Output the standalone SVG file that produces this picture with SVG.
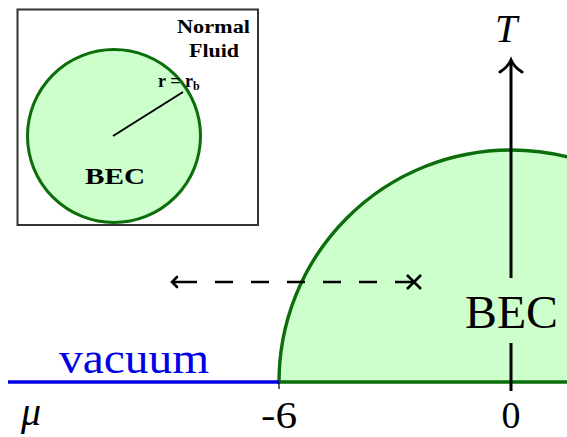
<svg xmlns="http://www.w3.org/2000/svg" width="567" height="437" viewBox="0 0 567 437">
<style>
.serif{font-family:"Liberation Serif","DejaVu Serif",serif;fill:#000}
.region{fill:#ccffcc;stroke:#0b6e0b;stroke-width:3.4}
.axis{stroke:#000;stroke-width:3;fill:none}
.dash{stroke:#000;stroke-width:2.6;fill:none}
</style>
<rect width="567" height="437" fill="#fff"/>
<g id="bec-region">
  <path class="region" d="M279 382 A232 232 0 0 1 743 382 Z"/>
  <text class="serif" x="511.5" y="328" font-size="46" text-anchor="middle" textLength="93" lengthAdjust="spacingAndGlyphs">BEC</text>
</g>
<g id="vacuum">
  <line x1="8" y1="382" x2="279" y2="382" stroke="#0000e6" stroke-width="3.5"/>
  <text x="134" y="373" font-family="Liberation Serif, serif" font-size="44" fill="#0000e6" text-anchor="middle" textLength="150" lengthAdjust="spacingAndGlyphs">vacuum</text>
</g>
<g id="axes">
  <path class="axis" d="M511 391 V343 M511 278 V61"/>
  <path class="axis" stroke-width="2.6" stroke-linecap="round" d="M500 72 Q508 67 511 60 Q514 67 522 72"/>
  <line x1="279" y1="382" x2="279" y2="389" stroke="#000" stroke-width="1.2"/>
  <text class="serif" x="506" y="42" font-size="40" font-style="italic" text-anchor="middle">T</text>
  <text class="serif" x="31" y="425" font-size="40" font-style="italic" text-anchor="middle">μ</text>
  <text class="serif" x="279" y="428" font-size="38" text-anchor="middle" textLength="36" lengthAdjust="spacingAndGlyphs">-6</text>
  <text class="serif" x="511" y="428" font-size="38" text-anchor="middle">0</text>
</g>
<g id="connectors">
  <path class="dash" d="M174 282 H197 M215 282 H233 M251 282 H269 M287 282 H305 M323 282 H341 M359 282 H377 M395 282 H414"/>
  <path class="dash" stroke-linecap="round" d="M177 277 Q173 281 172 282 Q173 283 177 287"/>
  <path class="dash" d="M407 275 L421 289 M421 275 L407 289"/>
</g>
<g id="inset">
  <rect x="17.5" y="9.5" width="240.5" height="215.5" fill="#fff" stroke="#333" stroke-width="2"/>
  <circle cx="114" cy="136" r="86.5" fill="#ccffcc" stroke="#0b6e0b" stroke-width="3"/>
  <line x1="113" y1="136" x2="183" y2="92" stroke="#000" stroke-width="2"/>
  <text class="serif" x="213.5" y="33" font-size="19" font-weight="bold" text-anchor="middle" textLength="73" lengthAdjust="spacingAndGlyphs">Normal</text>
  <text class="serif" x="214" y="57" font-size="19" font-weight="bold" text-anchor="middle" textLength="50" lengthAdjust="spacingAndGlyphs">Fluid</text>
  <text class="serif" x="158" y="87" font-size="18" font-weight="bold">r = r<tspan font-size="12" dy="3">b</tspan></text>
  <text class="serif" x="115" y="184" font-size="24" font-weight="bold" text-anchor="middle" textLength="60" lengthAdjust="spacingAndGlyphs">BEC</text>
</g>
</svg>
